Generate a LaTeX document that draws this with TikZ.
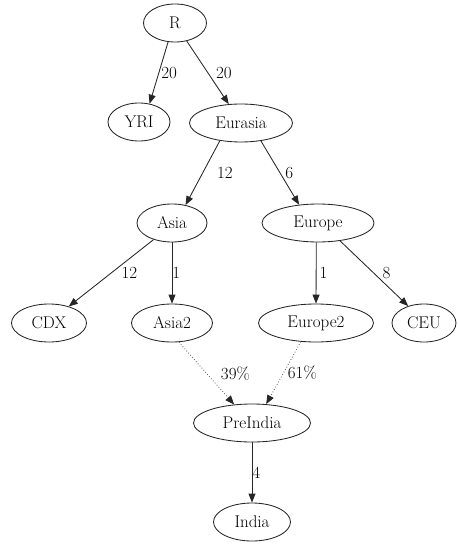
\documentclass[tikz,border=0pt]{standalone}
\usetikzlibrary{arrows.meta,shapes.geometric}
\begin{document}
\begin{tikzpicture}[x=1pt,y=-1pt,
  every node/.style={font=\fontsize{17}{20}\selectfont},
  nd/.style={draw=black!85, ellipse, line width=0.85pt, inner sep=0pt, minimum height=38pt},
  edge/.style={draw=black!85, line width=0.85pt, -{Triangle[length=9pt,width=7pt]}},
  dotedge/.style={draw=black!60, line width=0.85pt, dotted, -{Triangle[length=9pt,width=7pt,color=black!85]}},
  lbl/.style={midway, anchor=west, inner sep=0pt}]
\useasboundingbox (0,0) rectangle (457,545);
\node[nd, minimum width=63pt] (R) at (175,23) {R};
\node[nd, minimum width=62pt] (YRI) at (139,122) {YRI};
\node[nd, minimum width=103pt] (Eurasia) at (241,123) {Eurasia};
\node[nd, minimum width=70pt] (Asia) at (172,223) {Asia};
\node[nd, minimum width=112pt] (Europe) at (318,223) {Europe};
\node[nd, minimum width=75pt] (CDX) at (49,323) {CDX};
\node[nd, minimum width=81pt] (Asia2) at (172,323) {Asia2};
\node[nd, minimum width=115pt] (Europe2) at (316,323) {Europe2};
\node[nd, minimum width=64pt] (CEU) at (424,323) {CEU};
\node[nd, minimum width=117pt] (PreIndia) at (252,423) {PreIndia};
\node[nd, minimum width=77pt] (India) at (252,522) {India};

\draw[edge] (R.250) -- (YRI.60) node[lbl, xshift=2pt] {20};
\draw[edge] (R.303) -- (Eurasia.123) node[lbl, xshift=8pt] {20};
\draw[edge] (Eurasia.220) -- (Asia.53) node[lbl, xshift=14pt] {12};
\draw[edge] (Eurasia.318) -- (Europe.136) node[lbl, xshift=5pt] {6};
\draw[edge] (Asia.222) -- (CDX.40) node[lbl, xshift=10pt] {12};
\draw[edge] (Asia.south) -- (Asia2.north) node[lbl, xshift=0pt] {1};
\draw[edge] (Europe.265) -- (Europe2.north) node[lbl, xshift=3pt] {1};
\draw[edge] (Europe.321) -- (CEU.133) node[lbl, xshift=8pt] {8};
\draw[dotedge] (Asia2.290) -- (PreIndia.134) node[lbl, xshift=14pt, text=black] {39\%};
\draw[dotedge] (Europe2.231) -- (PreIndia.53) node[lbl, xshift=4pt, text=black] {61\%};
\draw[edge] (PreIndia.south) -- (India.north) node[lbl, xshift=0pt] {4};
\end{tikzpicture}
\end{document}
